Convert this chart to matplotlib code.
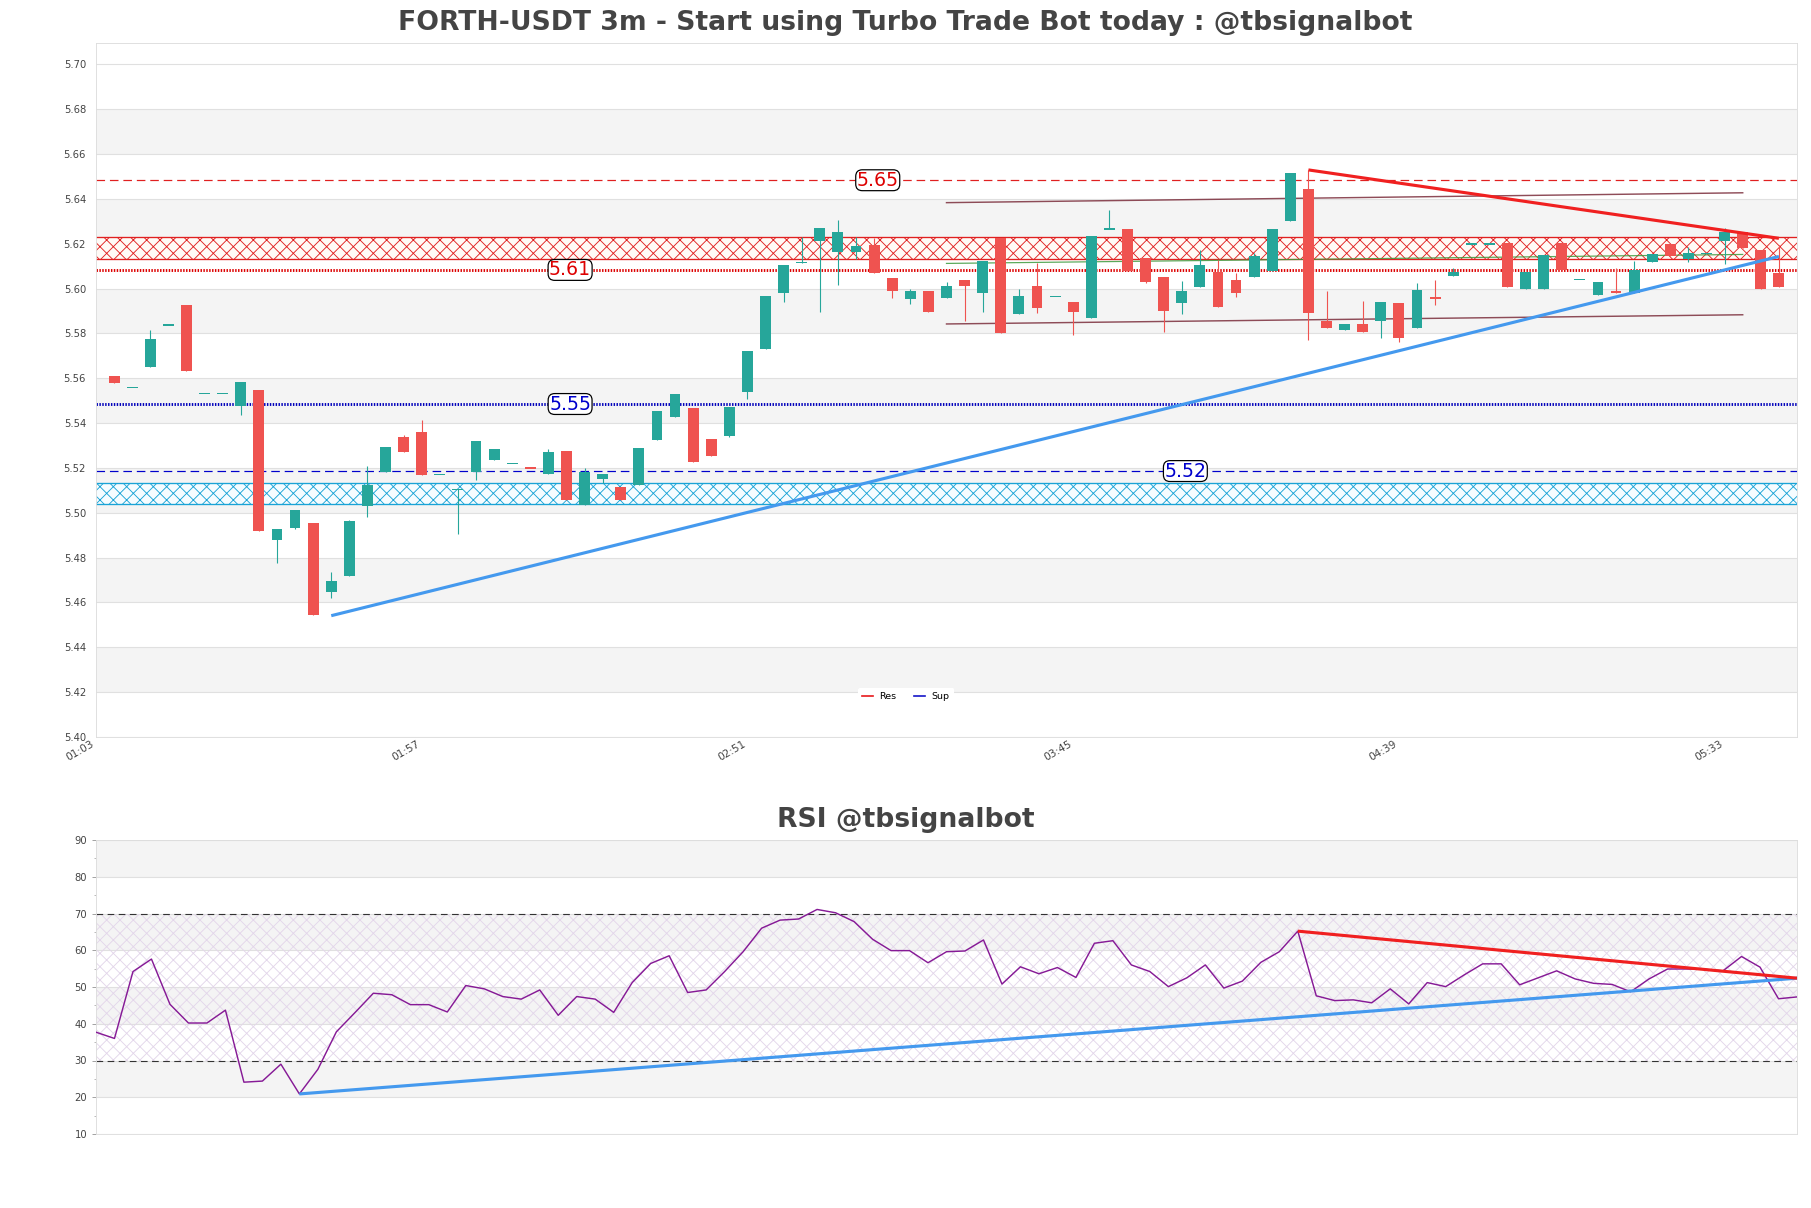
import numpy as np
import matplotlib
matplotlib.use("Agg")
import matplotlib.pyplot as plt
from matplotlib.lines import Line2D

# ---------------- data ----------------
opens = [5.5608, 5.5559, 5.5651, 5.5837, 5.5928, 5.5532, 5.5532, 5.5477, 5.5547, 5.4880,
         5.4933, 5.4954, 5.4645, 5.4716, 5.5031, 5.5183, 5.5336, 5.5358, 5.5170, 5.5104,
         5.5181, 5.5235, 5.5220, 5.5201, 5.5172, 5.5274, 5.5036, 5.5150, 5.5115, 5.5125,
         5.5324, 5.5427, 5.5468, 5.5328, 5.5343, 5.5539, 5.5731, 5.5978, 5.6115, 5.6210,
         5.6165, 5.6165, 5.6196, 5.6046, 5.5955, 5.5990, 5.5960, 5.6039, 5.5981, 5.6227,
         5.5886, 5.6011, 5.5965, 5.5940, 5.5870, 5.6265, 5.6265, 5.6135, 5.6051, 5.5937,
         5.6008, 5.6075, 5.6038, 5.6053, 5.6076, 5.6299, 5.6443, 5.5856, 5.5813, 5.5842,
         5.5857, 5.5935, 5.5823, 5.5960, 5.6054, 5.6198, 5.6198, 5.6202, 5.5999, 5.5997,
         5.6202, 5.6039, 5.5969, 5.5990, 5.5979, 5.6120, 5.6199, 5.6131, 5.6155, 5.6210,
         5.6254, 5.6172, 5.6068]
highs = [5.5608, 5.5559, 5.5815, 5.5837, 5.5928, 5.5532, 5.5532, 5.5583, 5.5547, 5.4927,
         5.5012, 5.4954, 5.4735, 5.4969, 5.5208, 5.5293, 5.5349, 5.5412, 5.5170, 5.5104,
         5.5318, 5.5286, 5.5220, 5.5201, 5.5283, 5.5274, 5.5201, 5.5174, 5.5115, 5.5291,
         5.5455, 5.5531, 5.5468, 5.5328, 5.5471, 5.5722, 5.5967, 5.6106, 5.6229, 5.6269,
         5.6306, 5.6229, 5.6225, 5.6046, 5.5997, 5.5990, 5.6027, 5.6039, 5.6123, 5.6227,
         5.6000, 5.6115, 5.5965, 5.5940, 5.6234, 5.6350, 5.6265, 5.6135, 5.6051, 5.6033,
         5.6172, 5.6127, 5.6068, 5.6157, 5.6265, 5.6514, 5.6529, 5.5990, 5.5842, 5.5945,
         5.5939, 5.5935, 5.6024, 5.6039, 5.6091, 5.6198, 5.6198, 5.6202, 5.6074, 5.6150,
         5.6202, 5.6039, 5.6031, 5.6091, 5.6123, 5.6153, 5.6199, 5.6184, 5.6155, 5.6269,
         5.6254, 5.6172, 5.6195]
lows = [5.5580, 5.5559, 5.5651, 5.5837, 5.5633, 5.5532, 5.5532, 5.5437, 5.4920, 5.4778,
        5.4927, 5.4545, 5.4618, 5.4716, 5.4982, 5.5183, 5.5271, 5.5168, 5.5170, 5.4906,
        5.5147, 5.5235, 5.5220, 5.5199, 5.5172, 5.5058, 5.5036, 5.5132, 5.5058, 5.5125,
        5.5324, 5.5427, 5.5228, 5.5251, 5.5340, 5.5509, 5.5731, 5.5942, 5.6115, 5.5897,
        5.6016, 5.6131, 5.6068, 5.5957, 5.5932, 5.5897, 5.5960, 5.5857, 5.5897, 5.5803,
        5.5886, 5.5892, 5.5965, 5.5795, 5.5870, 5.6265, 5.6080, 5.6023, 5.5807, 5.5886,
        5.6008, 5.5919, 5.5964, 5.6053, 5.6076, 5.6299, 5.5771, 5.5826, 5.5813, 5.5808,
        5.5778, 5.5761, 5.5823, 5.5927, 5.6054, 5.6198, 5.6198, 5.6009, 5.5999, 5.5997,
        5.6083, 5.6039, 5.5969, 5.5978, 5.5979, 5.6120, 5.6147, 5.6120, 5.6155, 5.6110,
        5.6183, 5.5997, 5.6009]
closes = [5.5580, 5.5559, 5.5775, 5.5837, 5.5633, 5.5532, 5.5532, 5.5583, 5.4920, 5.4927,
          5.5012, 5.4545, 5.4695, 5.4964, 5.5123, 5.5293, 5.5271, 5.5168, 5.5170, 5.5104,
          5.5318, 5.5286, 5.5220, 5.5199, 5.5269, 5.5058, 5.5184, 5.5174, 5.5058, 5.5291,
          5.5455, 5.5531, 5.5228, 5.5251, 5.5471, 5.5722, 5.5967, 5.6106, 5.6117, 5.6269,
          5.6251, 5.6190, 5.6068, 5.5987, 5.5990, 5.5897, 5.6012, 5.6013, 5.6123, 5.5803,
          5.5967, 5.5915, 5.5965, 5.5897, 5.6234, 5.6265, 5.6080, 5.6030, 5.5901, 5.5989,
          5.6105, 5.5919, 5.5978, 5.6145, 5.6265, 5.6514, 5.5893, 5.5826, 5.5842, 5.5808,
          5.5939, 5.5778, 5.5994, 5.5955, 5.6074, 5.6198, 5.6198, 5.6009, 5.6074, 5.6150,
          5.6083, 5.6039, 5.6031, 5.5978, 5.6083, 5.6153, 5.6147, 5.6158, 5.6155, 5.6250,
          5.6183, 5.5997, 5.6009]
rsi = [37.7, 36.0, 54.2, 57.6, 45.3, 40.2, 40.2, 43.7, 24.1, 24.4,
       29.0, 20.9, 27.6, 37.8, 43.0, 48.3, 47.9, 45.2, 45.2, 43.2,
       50.4, 49.5, 47.4, 46.7, 49.2, 42.3, 47.4, 46.7, 43.1, 51.2,
       56.4, 58.5, 48.5, 49.2, 54.2, 59.6, 66.0, 68.2, 68.5, 71.1,
       70.2, 67.8, 63.0, 59.9, 59.9, 56.6, 59.6, 59.8, 62.8, 50.8,
       55.5, 53.6, 55.3, 52.6, 61.9, 62.6, 56.0, 54.2, 50.1, 52.5,
       56.0, 49.7, 51.6, 56.7, 59.6, 65.2, 47.6, 46.3, 46.5, 45.7,
       49.5, 45.4, 51.2, 50.1, 53.3, 56.3, 56.3, 50.6, 52.5, 54.4,
       52.2, 51.0, 50.7, 48.7, 52.2, 54.9, 54.9, 54.8, 54.4, 58.3,
       55.4, 46.8, 47.3]
tick_labels = ["01:03", "01:57", "02:51", "03:45", "04:39", "05:33"]

res_dashed = 5.6483
res_dotted = 5.6083
sup_dotted = 5.5485
sup_dashed = 5.5186
res_zone = (5.6133, 5.6228)
sup_zone = (5.5037, 5.5131)

sup_trend_x, sup_trend_y = [12, 92], [5.4541, 5.6143]
res_trend_x, res_trend_y = [66, 92], [5.6529, 5.6224]
chan_up_x, chan_up_y = [46, 90], [5.6383, 5.6427]
chan_lo_x, chan_lo_y = [46, 90], [5.5842, 5.5883]
chan_mid_x, chan_mid_y = [46, 90], [5.6112, 5.6152]
rsi_sup_x, rsi_sup_y = [11, 92], [20.9, 52.4]
rsi_res_x, rsi_res_y = [65, 92], [65.2, 52.4]

level_labels = ["5.65", "5.61", "5.55", "5.52"]
level_values = [res_dashed, res_dotted, sup_dotted, sup_dashed]
level_label_x = [42.2, 25.2, 25.2, 59.2]

# ---------------- style ----------------
DPI = 80
W, H = 1811, 1208
GREEN = "#26a69a"
RED = "#ef5350"
BAND = "#f4f4f4"
GRID = "#e0e0e0"
SPINE = "#dddddd"
TXT = "#444444"
plt.rcParams["hatch.linewidth"] = 0.8

fig = plt.figure(figsize=(W / DPI, H / DPI), dpi=DPI, facecolor="white")
ax = fig.add_axes([96 / W, 1 - 737 / H, 1701 / W, 694 / H])
ax2 = fig.add_axes([96 / W, 1 - 1134 / H, 1701 / W, 294 / H])

# ---------------- main chart ----------------
n = len(opens)
x = np.arange(n)
o, h, l, c = (np.array(v) for v in (opens, highs, lows, closes))
cols = np.where(c >= o, GREEN, RED)
diff = np.abs(c - o)
minh = 0.0006
body_h = np.maximum(diff, minh)
body_b = np.where(diff < minh, (o + c) / 2 - minh / 2, np.minimum(o, c))

ax.set_xlim(-1, n)
ax.set_ylim(5.40, 5.7095)
yt = np.round(np.arange(5.40, 5.7001, 0.02), 2)
ax.set_yticks(yt)
ax.set_yticklabels([f"{v:.2f}" for v in yt])
for k in range(len(yt) - 1):
    if k % 2 == 1:
        ax.axhspan(yt[k], yt[k + 1], color=BAND, lw=0, zorder=0)
ax.set_axisbelow(True)
ax.grid(axis="y", color=GRID, lw=1)

# zones
ax.axhspan(*res_zone, facecolor="#fffaf6", edgecolor="#e02020", hatch="xx", lw=0, zorder=1)
ax.axhline(res_zone[0], color="#e02020", lw=1.2, zorder=1.2)
ax.axhline(res_zone[1], color="#e02020", lw=1.2, zorder=1.2)
ax.axhspan(*sup_zone, facecolor="#f6fcff", edgecolor="#1aa3d6", hatch="xx", lw=0, zorder=1)
ax.axhline(sup_zone[0], color="#1aa3d6", lw=1.2, zorder=1.2)
ax.axhline(sup_zone[1], color="#1aa3d6", lw=1.2, zorder=1.2)

# levels
ax.axhline(res_dashed, color="#e02020", lw=1.1, ls=(0, (7, 4)), zorder=2)
ax.axhline(res_dotted, color="#dd0000", lw=2.6, ls=(0, (0.5, 0.5)), zorder=2)
ax.axhline(sup_dotted, color="#0000bb", lw=2.6, ls=(0, (0.5, 0.5)), zorder=2)
ax.axhline(sup_dashed, color="#0000cc", lw=1.1, ls=(0, (7, 4)), zorder=2)

# channel lines
ax.plot(chan_up_x, chan_up_y, color="#7b2d3b", lw=1.3, alpha=0.85, zorder=2.5)
ax.plot(chan_lo_x, chan_lo_y, color="#7b2d3b", lw=1.3, alpha=0.85, zorder=2.5)
ax.plot(chan_mid_x, chan_mid_y, color="#3d9a3d", lw=1.1, alpha=0.85, zorder=2.5)

# candles
ax.vlines(x, l, h, colors=cols, lw=1.0, zorder=3)
ax.bar(x, body_h, bottom=body_b, width=0.6, color=cols, lw=0, zorder=3.1)

# trend lines
ax.plot(sup_trend_x, sup_trend_y, color="#4499ee", lw=2.8, solid_capstyle="butt", zorder=4)
ax.plot(res_trend_x, res_trend_y, color="#f02020", lw=2.8, solid_capstyle="butt", zorder=4)

# level labels
for lab, val, lx in zip(level_labels, level_values, level_label_x):
    colr = "#dd0000" if val > 5.58 else "#0000cc"
    ax.text(lx, val, lab, color=colr, fontsize=17, ha="center", va="center", zorder=6,
            bbox=dict(boxstyle="round,pad=0.05,rounding_size=0.35", fc="white", ec="black", lw=1.1))

ax.set_xticks(np.arange(-1, n, 18))
ax.set_xticklabels(tick_labels, rotation=30, ha="right", fontsize=9.5, color=TXT)
ax.tick_params(axis="x", length=0, pad=2)
ax.tick_params(axis="y", length=0, pad=9, labelsize=9, labelcolor=TXT)
for s in ax.spines.values():
    s.set_color(SPINE)

handles = [Line2D([], [], color="#e8191b", lw=1.5), Line2D([], [], color="#1515c8", lw=1.5)]
leg = ax.legend(handles, ["Res", "Sup"], loc="center", bbox_to_anchor=(0.476, 0.058), ncol=2,
                fontsize=8.5, frameon=True, facecolor="white", edgecolor="white", framealpha=1,
                handlelength=1.2, columnspacing=1.8, handletextpad=0.7)

# ---------------- RSI ----------------
xr = np.arange(len(rsi))
ax2.set_xlim(0, len(rsi) - 1)
ax2.set_ylim(10, 90)
rt = np.arange(10, 91, 10)
ax2.set_yticks(rt)
ax2.set_yticks(np.arange(15, 90, 10), minor=True)
for k in range(len(rt) - 1):
    if k % 2 == 1:
        ax2.axhspan(rt[k], rt[k + 1], color=BAND, lw=0, zorder=0)
ax2.set_axisbelow(True)
ax2.grid(axis="y", which="major", color=GRID, lw=1)
ax2.axhspan(30, 70, facecolor="none", edgecolor="#e3d6ea", hatch="xx", lw=0, zorder=0.6)
ax2.axhline(70, color="#333333", lw=1.0, ls=(0, (6, 4)), zorder=2)
ax2.axhline(30, color="#333333", lw=1.0, ls=(0, (6, 4)), zorder=2)
ax2.plot(xr, rsi, color="#861a96", lw=1.3, zorder=3)
ax2.plot(rsi_sup_x, rsi_sup_y, color="#4499ee", lw=2.8, solid_capstyle="butt", zorder=4)
ax2.plot(rsi_res_x, rsi_res_y, color="#f02020", lw=2.8, solid_capstyle="butt", zorder=4)
ax2.set_xticks([])
ax2.tick_params(axis="y", which="major", length=4, pad=4, labelsize=9, labelcolor=TXT, color="#999999")
ax2.tick_params(axis="y", which="minor", length=2, color="#999999")
for s in ax2.spines.values():
    s.set_color(SPINE)

# ---------------- titles ----------------
fig.text(0.5, 1 - 23 / H, "FORTH-USDT 3m - Start using Turbo Trade Bot today : @tbsignalbot",
         ha="center", va="center", fontsize=24, fontweight="bold", color=TXT)
fig.text(0.5, 1 - 820 / H, "RSI @tbsignalbot", ha="center", va="center",
         fontsize=24, fontweight="bold", color=TXT)

fig.savefig("out.png", dpi=DPI, facecolor="white")
